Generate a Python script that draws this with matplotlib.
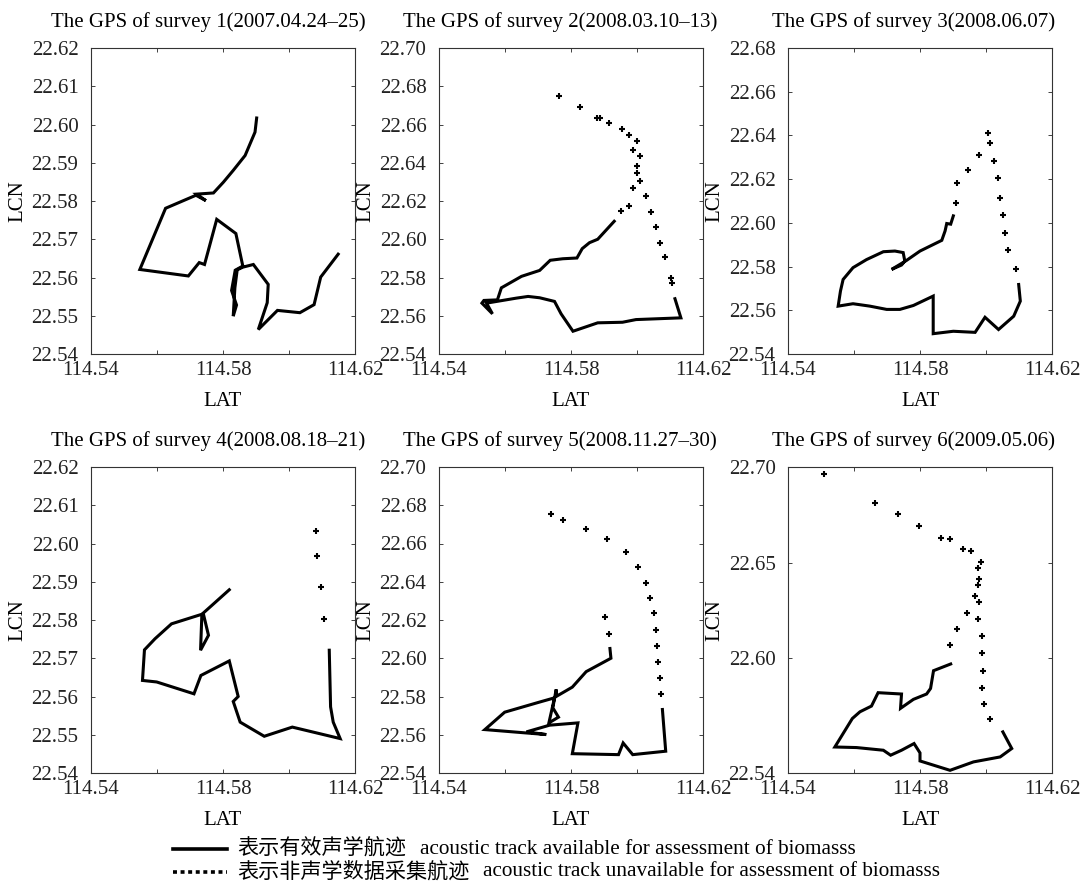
import matplotlib.pyplot as plt
from matplotlib.lines import Line2D

plt.rcParams['font.family'] = ['Liberation Serif', 'Noto Sans CJK SC']
plt.rcParams['axes.unicode_minus'] = False

titles = ["The GPS of survey 1(2007.04.24\u201325)", "The GPS of survey 2(2008.03.10\u201313)",
          "The GPS of survey 3(2008.06.07)", "The GPS of survey 4(2008.08.18\u201321)",
          "The GPS of survey 5(2008.11.27\u201330)", "The GPS of survey 6(2009.05.06)"]

# acoustic tracks (solid)
lat1 = [114.5902, 114.5897, 114.5867, 114.5831, 114.5801, 114.5771, 114.5720, 114.5748, 114.5718, 114.5626,
        114.5548, 114.5695, 114.5728, 114.5744, 114.5781, 114.5839, 114.5860, 114.5837, 114.5826, 114.5841,
        114.5831, 114.5836, 114.5843, 114.5860, 114.5892, 114.5937, 114.5934, 114.5907, 114.5965, 114.6033,
        114.6076, 114.6096, 114.6149]
lcn1 = [22.6017, 22.5980, 22.5919, 22.5880, 22.5849, 22.5821, 22.5818, 22.5801, 22.5815, 22.5781,
        22.5621, 22.5604, 22.5639, 22.5634, 22.5752, 22.5715, 22.5630, 22.5619, 22.5566, 22.5528,
        22.5499, 22.5573, 22.5620, 22.5627, 22.5634, 22.5582, 22.5534, 22.5464, 22.5514, 22.5508,
        22.5529, 22.5601, 22.5661]

lat2 = [114.5931, 114.5906, 114.5881, 114.5856, 114.5834, 114.5818, 114.5775, 114.5737, 114.5705, 114.5650,
        114.5589, 114.5577, 114.5536, 114.5530, 114.5562, 114.5544, 114.5634, 114.5670, 114.5705, 114.5750,
        114.5770, 114.5806, 114.5881, 114.5956, 114.5997, 114.6133, 114.6115]
lcn2 = [22.6094, 22.6047, 22.6000, 22.5982, 22.5951, 22.5902, 22.5898, 22.5890, 22.5837, 22.5806,
        22.5746, 22.5683, 22.5680, 22.5666, 22.5610, 22.5666, 22.5692, 22.5701, 22.5694, 22.5675,
        22.5610, 22.5519, 22.5563, 22.5566, 22.5580, 22.5589, 22.5689]

lat3 = [114.5901, 114.5893, 114.5881, 114.5876, 114.5866, 114.5800, 114.5759, 114.5714, 114.5744, 114.5754,
        114.5749, 114.5724, 114.5689, 114.5638, 114.5597, 114.5567, 114.5559, 114.5552, 114.5597, 114.5648,
        114.5699, 114.5739, 114.5780, 114.5840, 114.5840, 114.5901, 114.5967, 114.5997, 114.6038, 114.6084,
        114.6104, 114.6099]
lcn3 = [22.6032, 22.5994, 22.5997, 22.5963, 22.5920, 22.5871, 22.5828, 22.5787, 22.5807, 22.5825,
        22.5864, 22.5871, 22.5868, 22.5832, 22.5795, 22.5741, 22.5688, 22.5619, 22.5630, 22.5619,
        22.5604, 22.5604, 22.5622, 22.5665, 22.5493, 22.5504, 22.5499, 22.5568, 22.5512, 22.5573,
        22.5642, 22.5718]

lat4 = [114.5819, 114.5766, 114.5740, 114.5756, 114.5732, 114.5736, 114.5644, 114.5594, 114.5562, 114.5556,
        114.5599, 114.5712, 114.5733, 114.5819, 114.5846, 114.5831, 114.5852, 114.5925, 114.6010, 114.6155,
        114.6134, 114.6126, 114.6122]
lcn4 = [22.5879, 22.5838, 22.5818, 22.5760, 22.5721, 22.5815, 22.5790, 22.5751, 22.5722, 22.5642,
        22.5638, 22.5607, 22.5655, 22.5693, 22.5600, 22.5587, 22.5533, 22.5496, 22.5520, 22.5490,
        22.5533, 22.5573, 22.5721]

lat5 = [114.5918, 114.5921, 114.5846, 114.5804, 114.5757, 114.5755, 114.5745, 114.5762, 114.5733, 114.5750,
        114.5705, 114.5599, 114.5539, 114.5660, 114.5725, 114.5665, 114.5735, 114.5821, 114.5804, 114.5944,
        114.5958, 114.5987, 114.6087, 114.6077]
lcn5 = [22.6051, 22.6000, 22.5930, 22.5849, 22.5802, 22.5837, 22.5741, 22.5692, 22.5662, 22.5793,
        22.5771, 22.5718, 22.5627, 22.5610, 22.5601, 22.5615, 22.5650, 22.5662, 22.5501, 22.5496,
        22.5557, 22.5496, 22.5514, 22.5732]

lat6 = [114.5893, 114.5841, 114.5832, 114.5820, 114.5780, 114.5741, 114.5744, 114.5673, 114.5653, 114.5618,
        114.5595, 114.5542, 114.5608, 114.5689, 114.5711, 114.5744, 114.5782, 114.5800, 114.5800, 114.5891,
        114.5962, 114.6043, 114.6078, 114.6051]
lcn6 = [22.5970, 22.5935, 22.5842, 22.5813, 22.5785, 22.5738, 22.5813, 22.5820, 22.5750, 22.5720,
        22.5685, 22.5536, 22.5533, 22.5519, 22.5493, 22.5519, 22.5554, 22.5505, 22.5463, 22.5414,
        22.5458, 22.5484, 22.5528, 22.5615]

# non-acoustic points (dotted)
dlat1, dlcn1 = [], []
dlat2 = [114.5763, 114.5828, 114.5878, 114.5888, 114.5916, 114.5956, 114.5975, 114.6000, 114.5989, 114.6010,
         114.6000, 114.5999, 114.6010, 114.5987, 114.6027, 114.5977, 114.5953, 114.6042, 114.6057, 114.6069,
         114.6085, 114.6104, 114.6107]
dlcn2 = [22.6750, 22.6689, 22.6636, 22.6633, 22.6607, 22.6577, 22.6545, 22.6516, 22.6465, 22.6435,
         22.6385, 22.6348, 22.6304, 22.6266, 22.6227, 22.6176, 22.6148, 22.6143, 22.6063, 22.5982,
         22.5905, 22.5800, 22.5769]
dlat3 = [114.6005, 114.6011, 114.5978, 114.5944, 114.5911, 114.5908, 114.6025, 114.6035, 114.6043, 114.6052,
         114.6058, 114.6067, 114.6090]
dlcn3 = [22.6411, 22.6367, 22.6312, 22.6243, 22.6182, 22.6089, 22.6281, 22.6203, 22.6116, 22.6038,
         22.5954, 22.5874, 22.5789]
dlat4 = [114.6081, 114.6086, 114.6096, 114.6107]
dlcn4 = [22.6033, 22.5967, 22.5886, 22.5802]
dlat5 = [114.5738, 114.5776, 114.5844, 114.5910, 114.5968, 114.6004, 114.6027, 114.6039, 114.6052, 114.6059,
         114.6062, 114.6065, 114.6070, 114.6073, 114.5904, 114.5914]
dlcn5 = [22.6755, 22.6725, 22.6677, 22.6621, 22.6554, 22.6475, 22.6395, 22.6315, 22.6234, 22.6148,
         22.6065, 22.5982, 22.5898, 22.5811, 22.6218, 22.6129]
dlat6 = [114.5509, 114.5664, 114.5732, 114.5797, 114.5863, 114.5890, 114.5930, 114.5955, 114.5985, 114.5975,
         114.5979, 114.5977, 114.5968, 114.5979, 114.5943, 114.5975, 114.5911, 114.5988, 114.5890, 114.5987,
         114.5990, 114.5988, 114.5994, 114.6011]
dlcn6 = [22.6962, 22.6813, 22.6752, 22.6691, 22.6631, 22.6621, 22.6570, 22.6559, 22.6503, 22.6472,
         22.6414, 22.6383, 22.6327, 22.6295, 22.6239, 22.6204, 22.6154, 22.6117, 22.6070, 22.6026,
         22.5935, 22.5844, 22.5759, 22.5682]

xticks = [114.54, 114.56, 114.58, 114.60, 114.62]
xticklabels = ["114.54", "", "114.58", "", "114.62"]
yticks_a = [22.54, 22.55, 22.56, 22.57, 22.58, 22.59, 22.60, 22.61, 22.62]
yticks_b = [22.54, 22.56, 22.58, 22.60, 22.62, 22.64, 22.66, 22.68, 22.70]
yticks_c = [22.54, 22.56, 22.58, 22.60, 22.62, 22.64, 22.66, 22.68]
yticks_d = [22.54, 22.60, 22.65, 22.70]

tracks = [(lat1, lcn1), (lat2, lcn2), (lat3, lcn3), (lat4, lcn4), (lat5, lcn5), (lat6, lcn6)]
dots = [(dlat1, dlcn1), (dlat2, dlcn2), (dlat3, dlcn3), (dlat4, dlcn4), (dlat5, dlcn5), (dlat6, dlcn6)]
yticks_all = [yticks_a, yticks_b, yticks_c, yticks_a, yticks_b, yticks_d]

W, H = 1082, 883
fig = plt.figure(figsize=(W / 100, H / 100), dpi=100)

lefts = [91, 439, 788]
tops = [48, 467]
title_x = [0.443, 0.458, 0.474]
for i in range(6):
    r, c = divmod(i, 3)
    l, t = lefts[c], tops[r]
    ax = fig.add_axes([l / W, 1 - (t + 306) / H, 264 / W, 306 / H])
    x, y = tracks[i]
    ax.plot(x, y, color='black', lw=2.2, solid_joinstyle='miter')
    dx, dy = dots[i]
    if dx:
        ax.plot(dx, dy, ls='none', marker='+', ms=4, mew=1.5, color='black')
    yt = yticks_all[i]
    ax.set_xlim(114.54, 114.62)
    ax.set_ylim(yt[0], yt[-1])
    ax.set_xticks(xticks)
    ax.set_xticklabels(xticklabels)
    ax.set_yticks(yt)
    ax.set_yticklabels(["%.2f" % v for v in yt])
    ax.tick_params(direction='in', length=3, width=0.6, top=True, right=True,
                   labelsize=15, colors='#222222')
    ax.tick_params(axis='x', pad=5)
    ax.tick_params(axis='y', pad=9)
    for s in ax.spines.values():
        s.set_linewidth(0.8)
        s.set_color('#333333')
    ax.set_title(titles[i], fontsize=15, pad=15, x=title_x[c])
    ax.set_xlabel("LAT", fontsize=15, labelpad=9)
    ax.set_ylabel("LCN", fontsize=15)
    ax.yaxis.set_label_coords(-0.24, 0.5)

# legend at the bottom
y1, y2 = 1 - 849 / H, 1 - 872 / H
fig.add_artist(Line2D([173 / W, 227 / W], [y1, y1], color='black', lw=2.6))
fig.add_artist(Line2D([173 / W, 227 / W], [y2, y2], color='black', lw=2.6, ls=(0, (1.1, 1.0))))
fig.text(237 / W, y1, "表示有效声学航迹", family='Noto Sans CJK SC', fontsize=15.2, va='center')
fig.text(420 / W, y1, "acoustic track available for assessment of biomasss", fontsize=15.3, va='center')
fig.text(237 / W, y2, "表示非声学数据采集航迹", family='Noto Sans CJK SC', fontsize=15.2, va='center')
fig.text(483 / W, y2, "acoustic track unavailable for assessment of biomasss", fontsize=15.3, va='center')

fig.savefig("out.png", dpi=100)
